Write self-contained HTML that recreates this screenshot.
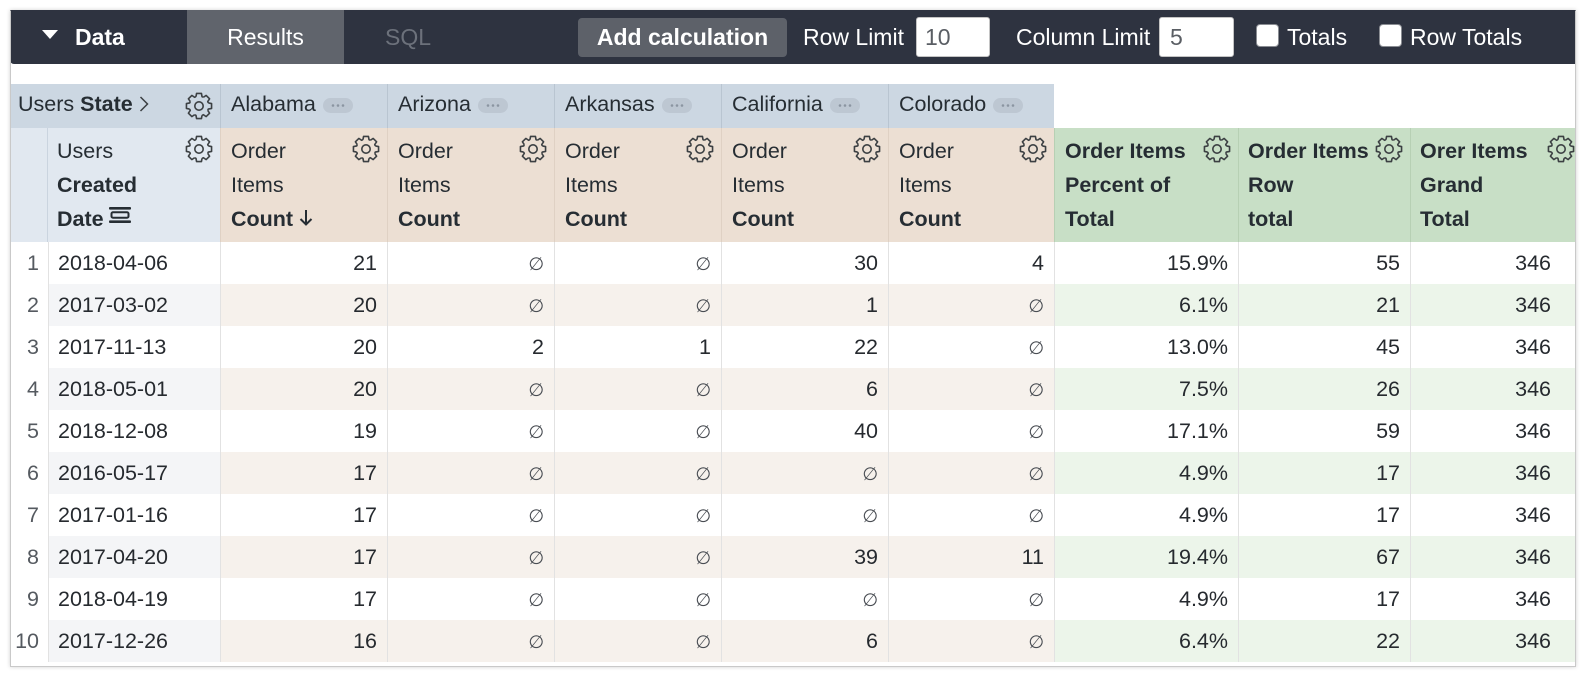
<!DOCTYPE html>
<html>
<head>
<meta charset="utf-8">
<style>
  html,body{margin:0;padding:0;background:#fff;}
  body{width:1586px;height:678px;position:relative;overflow:hidden;font-family:"Liberation Sans",Arial,sans-serif;color:#262a2f;}
  .frame{position:absolute;left:10px;top:10px;width:1566px;height:657px;box-sizing:border-box;border:1px solid #c9c9c9;border-top-color:transparent;box-shadow:0 0 4px rgba(0,0,0,0.18);}
  .clip{position:absolute;left:10px;top:10px;width:1566px;height:657px;overflow:hidden;}
  .inner{position:absolute;left:-10px;top:-10px;width:1600px;height:700px;}
  .tb{position:absolute;left:10px;top:10px;width:1566px;height:54px;background:#2e3340;border-bottom-left-radius:4px;}
  .t{position:absolute;top:10px;height:54px;line-height:54px;font-size:23px;color:#fff;white-space:nowrap;}
  .tri{position:absolute;left:42px;top:30px;width:0;height:0;border-left:8px solid transparent;border-right:8px solid transparent;border-top:9px solid #fff;}
  .tab{position:absolute;left:187px;top:10px;width:157px;height:54px;background:#60646c;color:#fff;font-size:23px;line-height:54px;text-align:center;}
  .btn{position:absolute;left:578px;top:18px;width:209px;height:39px;background:#5d6169;border-radius:4px;color:#fff;font-weight:bold;font-size:23px;line-height:39px;text-align:center;}
  .inp{position:absolute;top:17px;height:40px;box-sizing:border-box;background:#fff;border:1px solid #c4c4c4;border-radius:3px;font-size:23px;line-height:38px;color:#5a5e64;padding-left:8px;}
  .cb{position:absolute;top:24px;width:23px;height:23px;box-sizing:border-box;background:#fff;border:1.5px solid #8a8d93;border-radius:4px;}

  .row{position:absolute;left:11px;display:flex;}
  .c{box-sizing:border-box;height:100%;flex:none;position:relative;white-space:nowrap;overflow:hidden;font-size:21.5px;}
  .w0{width:37px}.w1{width:172px}.w2{width:167px}.w6{width:166px}.w7{width:184px}.w8{width:172px}.w9{width:172px}

  .h1{top:84px;height:44px;}
  .h1 .c{line-height:40px;background:#ccd7e2;color:#262d33;}
  .h1 .s{border-left:1px solid #b9c5d1;padding-left:10px;}
  .pill{vertical-align:-1.5px;margin-left:7px;}

  .h2{top:128px;height:114px;}
  .h2 .c{line-height:34px;padding-top:6px;padding-left:10px;color:#262d33;}
  .h2 .b{background:#e1e8f0;}
  .h2 .o{background:#ecdfd3;border-left:1px solid #dfd1c4;}
  .h2 .g{background:#c8dfc6;border-left:1px solid #b7d0b4;font-weight:bold;}
  .gear{position:absolute;right:7px;top:7px;}

  .d{height:42px;}
  .d .c{line-height:42px;border-left:1px solid #e2e2e2;text-align:right;padding-right:10px;}
  .d .c.n{border-left:none;padding-right:9px;color:#555a60;background:#fff;}
  .d .c.dt{text-align:left;padding-left:9px;padding-right:0;}
  .d .c.gt{padding-right:31px;}
  .d.e .dt{background:#f4f5f7;}
  .d.e .o{background:#f6f1ec;}
  .d.e .g{background:#ecf5ea;}
  .nul{font-family:"DejaVu Sans",sans-serif;font-size:18px;color:#4a4e54;}
</style>
</head>
<body>
<div class="clip"><div class="inner">

  <!-- toolbar -->
  <div class="tb"></div>
  <div class="tri"></div>
  <div class="t" style="left:75px;font-weight:bold;">Data</div>
  <div class="tab">Results</div>
  <div class="t" style="left:385px;color:#6c717b;">SQL</div>
  <div class="btn">Add calculation</div>
  <div class="t" style="left:803px;">Row Limit</div>
  <div class="inp" style="left:916px;width:74px;">10</div>
  <div class="t" style="left:1016px;">Column Limit</div>
  <div class="inp" style="left:1159px;width:75px;padding-left:10px;">5</div>
  <div class="cb" style="left:1256px;"></div>
  <div class="t" style="left:1287px;">Totals</div>
  <div class="cb" style="left:1379px;"></div>
  <div class="t" style="left:1410px;">Row Totals</div>

  <!-- header row 1 -->
  <div class="row h1">
    <div class="c" style="width:209px;padding-left:7px;">Users <b>State</b><svg width="10" height="16" viewBox="0 0 10 16" style="margin-left:6px;vertical-align:-1px;"><polyline points="1.5,1 8.5,8 1.5,15" fill="none" stroke="#3c4043" stroke-width="1.5"/></svg>
      <svg class="gear" style="top:8px;" width="28" height="28" viewBox="0 0 28 28"><g fill="none" stroke="#3c4043" stroke-width="1.6" stroke-linejoin="round"><polyline points="10.97,4.68 11.56,1.44 16.44,1.44 17.03,4.68 18.45,5.27"/><polyline transform="rotate(45 14 14)" points="10.97,4.68 11.56,1.44 16.44,1.44 17.03,4.68 18.45,5.27"/><polyline transform="rotate(90 14 14)" points="10.97,4.68 11.56,1.44 16.44,1.44 17.03,4.68 18.45,5.27"/><polyline transform="rotate(135 14 14)" points="10.97,4.68 11.56,1.44 16.44,1.44 17.03,4.68 18.45,5.27"/><polyline transform="rotate(180 14 14)" points="10.97,4.68 11.56,1.44 16.44,1.44 17.03,4.68 18.45,5.27"/><polyline transform="rotate(225 14 14)" points="10.97,4.68 11.56,1.44 16.44,1.44 17.03,4.68 18.45,5.27"/><polyline transform="rotate(270 14 14)" points="10.97,4.68 11.56,1.44 16.44,1.44 17.03,4.68 18.45,5.27"/><polyline transform="rotate(315 14 14)" points="10.97,4.68 11.56,1.44 16.44,1.44 17.03,4.68 18.45,5.27"/><circle cx="14" cy="14" r="4.2"/></g></svg>
    </div>
    <div class="c s w2">Alabama<svg class="pill" width="30" height="15"><rect width="30" height="15" rx="7.5" fill="#bdc7d2"/><circle cx="10" cy="7.5" r="1.3" fill="#8b95a1"/><circle cx="15" cy="7.5" r="1.3" fill="#8b95a1"/><circle cx="20" cy="7.5" r="1.3" fill="#8b95a1"/></svg></div>
    <div class="c s w2">Arizona<svg class="pill" width="30" height="15"><rect width="30" height="15" rx="7.5" fill="#bdc7d2"/><circle cx="10" cy="7.5" r="1.3" fill="#8b95a1"/><circle cx="15" cy="7.5" r="1.3" fill="#8b95a1"/><circle cx="20" cy="7.5" r="1.3" fill="#8b95a1"/></svg></div>
    <div class="c s w2">Arkansas<svg class="pill" width="30" height="15"><rect width="30" height="15" rx="7.5" fill="#bdc7d2"/><circle cx="10" cy="7.5" r="1.3" fill="#8b95a1"/><circle cx="15" cy="7.5" r="1.3" fill="#8b95a1"/><circle cx="20" cy="7.5" r="1.3" fill="#8b95a1"/></svg></div>
    <div class="c s w2">California<svg class="pill" width="30" height="15"><rect width="30" height="15" rx="7.5" fill="#bdc7d2"/><circle cx="10" cy="7.5" r="1.3" fill="#8b95a1"/><circle cx="15" cy="7.5" r="1.3" fill="#8b95a1"/><circle cx="20" cy="7.5" r="1.3" fill="#8b95a1"/></svg></div>
    <div class="c s w6">Colorado<svg class="pill" width="30" height="15"><rect width="30" height="15" rx="7.5" fill="#bdc7d2"/><circle cx="10" cy="7.5" r="1.3" fill="#8b95a1"/><circle cx="15" cy="7.5" r="1.3" fill="#8b95a1"/><circle cx="20" cy="7.5" r="1.3" fill="#8b95a1"/></svg></div>
  </div>

  <!-- header row 2 -->
  <div class="row h2">
    <div class="c w0 b" style="border-right:1px solid #cad4df;"></div>
    <div class="c b" style="width:172px;padding-left:9px;">Users<br><b>Created</b><br><b>Date</b><svg width="22" height="16" viewBox="0 0 22 16" style="margin-left:5px;vertical-align:3px;"><rect x="0" y="0" width="22" height="2.6" rx="1" fill="#262d33"/><rect x="2.5" y="5.3" width="17" height="5.4" rx="1.5" fill="none" stroke="#262d33" stroke-width="2"/><rect x="0" y="13.4" width="22" height="2.6" rx="1" fill="#262d33"/></svg>
      <svg class="gear" width="28" height="28" viewBox="0 0 28 28"><g fill="none" stroke="#3c4043" stroke-width="1.6" stroke-linejoin="round"><polyline points="10.97,4.68 11.56,1.44 16.44,1.44 17.03,4.68 18.45,5.27"/><polyline transform="rotate(45 14 14)" points="10.97,4.68 11.56,1.44 16.44,1.44 17.03,4.68 18.45,5.27"/><polyline transform="rotate(90 14 14)" points="10.97,4.68 11.56,1.44 16.44,1.44 17.03,4.68 18.45,5.27"/><polyline transform="rotate(135 14 14)" points="10.97,4.68 11.56,1.44 16.44,1.44 17.03,4.68 18.45,5.27"/><polyline transform="rotate(180 14 14)" points="10.97,4.68 11.56,1.44 16.44,1.44 17.03,4.68 18.45,5.27"/><polyline transform="rotate(225 14 14)" points="10.97,4.68 11.56,1.44 16.44,1.44 17.03,4.68 18.45,5.27"/><polyline transform="rotate(270 14 14)" points="10.97,4.68 11.56,1.44 16.44,1.44 17.03,4.68 18.45,5.27"/><polyline transform="rotate(315 14 14)" points="10.97,4.68 11.56,1.44 16.44,1.44 17.03,4.68 18.45,5.27"/><circle cx="14" cy="14" r="4.2"/></g></svg>
    </div>
    <div class="c o w2">Order<br>Items<br><b>Count</b> <svg width="14" height="17" viewBox="0 0 14 17" style="vertical-align:0;"><line x1="7" y1="1" x2="7" y2="15.5" stroke="#262d33" stroke-width="2"/><polyline points="1.5,10 7,15.5 12.5,10" fill="none" stroke="#262d33" stroke-width="2"/></svg>
      <svg class="gear" width="28" height="28" viewBox="0 0 28 28"><g fill="none" stroke="#3c4043" stroke-width="1.6" stroke-linejoin="round"><polyline points="10.97,4.68 11.56,1.44 16.44,1.44 17.03,4.68 18.45,5.27"/><polyline transform="rotate(45 14 14)" points="10.97,4.68 11.56,1.44 16.44,1.44 17.03,4.68 18.45,5.27"/><polyline transform="rotate(90 14 14)" points="10.97,4.68 11.56,1.44 16.44,1.44 17.03,4.68 18.45,5.27"/><polyline transform="rotate(135 14 14)" points="10.97,4.68 11.56,1.44 16.44,1.44 17.03,4.68 18.45,5.27"/><polyline transform="rotate(180 14 14)" points="10.97,4.68 11.56,1.44 16.44,1.44 17.03,4.68 18.45,5.27"/><polyline transform="rotate(225 14 14)" points="10.97,4.68 11.56,1.44 16.44,1.44 17.03,4.68 18.45,5.27"/><polyline transform="rotate(270 14 14)" points="10.97,4.68 11.56,1.44 16.44,1.44 17.03,4.68 18.45,5.27"/><polyline transform="rotate(315 14 14)" points="10.97,4.68 11.56,1.44 16.44,1.44 17.03,4.68 18.45,5.27"/><circle cx="14" cy="14" r="4.2"/></g></svg>
    </div>
    <div class="c o w2">Order<br>Items<br><b>Count</b>
      <svg class="gear" width="28" height="28" viewBox="0 0 28 28"><g fill="none" stroke="#3c4043" stroke-width="1.6" stroke-linejoin="round"><polyline points="10.97,4.68 11.56,1.44 16.44,1.44 17.03,4.68 18.45,5.27"/><polyline transform="rotate(45 14 14)" points="10.97,4.68 11.56,1.44 16.44,1.44 17.03,4.68 18.45,5.27"/><polyline transform="rotate(90 14 14)" points="10.97,4.68 11.56,1.44 16.44,1.44 17.03,4.68 18.45,5.27"/><polyline transform="rotate(135 14 14)" points="10.97,4.68 11.56,1.44 16.44,1.44 17.03,4.68 18.45,5.27"/><polyline transform="rotate(180 14 14)" points="10.97,4.68 11.56,1.44 16.44,1.44 17.03,4.68 18.45,5.27"/><polyline transform="rotate(225 14 14)" points="10.97,4.68 11.56,1.44 16.44,1.44 17.03,4.68 18.45,5.27"/><polyline transform="rotate(270 14 14)" points="10.97,4.68 11.56,1.44 16.44,1.44 17.03,4.68 18.45,5.27"/><polyline transform="rotate(315 14 14)" points="10.97,4.68 11.56,1.44 16.44,1.44 17.03,4.68 18.45,5.27"/><circle cx="14" cy="14" r="4.2"/></g></svg>
    </div>
    <div class="c o w2">Order<br>Items<br><b>Count</b>
      <svg class="gear" width="28" height="28" viewBox="0 0 28 28"><g fill="none" stroke="#3c4043" stroke-width="1.6" stroke-linejoin="round"><polyline points="10.97,4.68 11.56,1.44 16.44,1.44 17.03,4.68 18.45,5.27"/><polyline transform="rotate(45 14 14)" points="10.97,4.68 11.56,1.44 16.44,1.44 17.03,4.68 18.45,5.27"/><polyline transform="rotate(90 14 14)" points="10.97,4.68 11.56,1.44 16.44,1.44 17.03,4.68 18.45,5.27"/><polyline transform="rotate(135 14 14)" points="10.97,4.68 11.56,1.44 16.44,1.44 17.03,4.68 18.45,5.27"/><polyline transform="rotate(180 14 14)" points="10.97,4.68 11.56,1.44 16.44,1.44 17.03,4.68 18.45,5.27"/><polyline transform="rotate(225 14 14)" points="10.97,4.68 11.56,1.44 16.44,1.44 17.03,4.68 18.45,5.27"/><polyline transform="rotate(270 14 14)" points="10.97,4.68 11.56,1.44 16.44,1.44 17.03,4.68 18.45,5.27"/><polyline transform="rotate(315 14 14)" points="10.97,4.68 11.56,1.44 16.44,1.44 17.03,4.68 18.45,5.27"/><circle cx="14" cy="14" r="4.2"/></g></svg>
    </div>
    <div class="c o w2">Order<br>Items<br><b>Count</b>
      <svg class="gear" width="28" height="28" viewBox="0 0 28 28"><g fill="none" stroke="#3c4043" stroke-width="1.6" stroke-linejoin="round"><polyline points="10.97,4.68 11.56,1.44 16.44,1.44 17.03,4.68 18.45,5.27"/><polyline transform="rotate(45 14 14)" points="10.97,4.68 11.56,1.44 16.44,1.44 17.03,4.68 18.45,5.27"/><polyline transform="rotate(90 14 14)" points="10.97,4.68 11.56,1.44 16.44,1.44 17.03,4.68 18.45,5.27"/><polyline transform="rotate(135 14 14)" points="10.97,4.68 11.56,1.44 16.44,1.44 17.03,4.68 18.45,5.27"/><polyline transform="rotate(180 14 14)" points="10.97,4.68 11.56,1.44 16.44,1.44 17.03,4.68 18.45,5.27"/><polyline transform="rotate(225 14 14)" points="10.97,4.68 11.56,1.44 16.44,1.44 17.03,4.68 18.45,5.27"/><polyline transform="rotate(270 14 14)" points="10.97,4.68 11.56,1.44 16.44,1.44 17.03,4.68 18.45,5.27"/><polyline transform="rotate(315 14 14)" points="10.97,4.68 11.56,1.44 16.44,1.44 17.03,4.68 18.45,5.27"/><circle cx="14" cy="14" r="4.2"/></g></svg>
    </div>
    <div class="c o w6">Order<br>Items<br><b>Count</b>
      <svg class="gear" width="28" height="28" viewBox="0 0 28 28"><g fill="none" stroke="#3c4043" stroke-width="1.6" stroke-linejoin="round"><polyline points="10.97,4.68 11.56,1.44 16.44,1.44 17.03,4.68 18.45,5.27"/><polyline transform="rotate(45 14 14)" points="10.97,4.68 11.56,1.44 16.44,1.44 17.03,4.68 18.45,5.27"/><polyline transform="rotate(90 14 14)" points="10.97,4.68 11.56,1.44 16.44,1.44 17.03,4.68 18.45,5.27"/><polyline transform="rotate(135 14 14)" points="10.97,4.68 11.56,1.44 16.44,1.44 17.03,4.68 18.45,5.27"/><polyline transform="rotate(180 14 14)" points="10.97,4.68 11.56,1.44 16.44,1.44 17.03,4.68 18.45,5.27"/><polyline transform="rotate(225 14 14)" points="10.97,4.68 11.56,1.44 16.44,1.44 17.03,4.68 18.45,5.27"/><polyline transform="rotate(270 14 14)" points="10.97,4.68 11.56,1.44 16.44,1.44 17.03,4.68 18.45,5.27"/><polyline transform="rotate(315 14 14)" points="10.97,4.68 11.56,1.44 16.44,1.44 17.03,4.68 18.45,5.27"/><circle cx="14" cy="14" r="4.2"/></g></svg>
    </div>
    <div class="c g w7">Order Items<br>Percent of<br>Total
      <svg class="gear" width="28" height="28" viewBox="0 0 28 28"><g fill="none" stroke="#3c4043" stroke-width="1.6" stroke-linejoin="round"><polyline points="10.97,4.68 11.56,1.44 16.44,1.44 17.03,4.68 18.45,5.27"/><polyline transform="rotate(45 14 14)" points="10.97,4.68 11.56,1.44 16.44,1.44 17.03,4.68 18.45,5.27"/><polyline transform="rotate(90 14 14)" points="10.97,4.68 11.56,1.44 16.44,1.44 17.03,4.68 18.45,5.27"/><polyline transform="rotate(135 14 14)" points="10.97,4.68 11.56,1.44 16.44,1.44 17.03,4.68 18.45,5.27"/><polyline transform="rotate(180 14 14)" points="10.97,4.68 11.56,1.44 16.44,1.44 17.03,4.68 18.45,5.27"/><polyline transform="rotate(225 14 14)" points="10.97,4.68 11.56,1.44 16.44,1.44 17.03,4.68 18.45,5.27"/><polyline transform="rotate(270 14 14)" points="10.97,4.68 11.56,1.44 16.44,1.44 17.03,4.68 18.45,5.27"/><polyline transform="rotate(315 14 14)" points="10.97,4.68 11.56,1.44 16.44,1.44 17.03,4.68 18.45,5.27"/><circle cx="14" cy="14" r="4.2"/></g></svg>
    </div>
    <div class="c g w8" style="padding-left:9px;">Order Items<br>Row<br>total
      <svg class="gear" width="28" height="28" viewBox="0 0 28 28"><g fill="none" stroke="#3c4043" stroke-width="1.6" stroke-linejoin="round"><polyline points="10.97,4.68 11.56,1.44 16.44,1.44 17.03,4.68 18.45,5.27"/><polyline transform="rotate(45 14 14)" points="10.97,4.68 11.56,1.44 16.44,1.44 17.03,4.68 18.45,5.27"/><polyline transform="rotate(90 14 14)" points="10.97,4.68 11.56,1.44 16.44,1.44 17.03,4.68 18.45,5.27"/><polyline transform="rotate(135 14 14)" points="10.97,4.68 11.56,1.44 16.44,1.44 17.03,4.68 18.45,5.27"/><polyline transform="rotate(180 14 14)" points="10.97,4.68 11.56,1.44 16.44,1.44 17.03,4.68 18.45,5.27"/><polyline transform="rotate(225 14 14)" points="10.97,4.68 11.56,1.44 16.44,1.44 17.03,4.68 18.45,5.27"/><polyline transform="rotate(270 14 14)" points="10.97,4.68 11.56,1.44 16.44,1.44 17.03,4.68 18.45,5.27"/><polyline transform="rotate(315 14 14)" points="10.97,4.68 11.56,1.44 16.44,1.44 17.03,4.68 18.45,5.27"/><circle cx="14" cy="14" r="4.2"/></g></svg>
    </div>
    <div class="c g w9" style="padding-left:9px;">Orer Items<br>Grand<br>Total
      <svg class="gear" width="28" height="28" viewBox="0 0 28 28"><g fill="none" stroke="#3c4043" stroke-width="1.6" stroke-linejoin="round"><polyline points="10.97,4.68 11.56,1.44 16.44,1.44 17.03,4.68 18.45,5.27"/><polyline transform="rotate(45 14 14)" points="10.97,4.68 11.56,1.44 16.44,1.44 17.03,4.68 18.45,5.27"/><polyline transform="rotate(90 14 14)" points="10.97,4.68 11.56,1.44 16.44,1.44 17.03,4.68 18.45,5.27"/><polyline transform="rotate(135 14 14)" points="10.97,4.68 11.56,1.44 16.44,1.44 17.03,4.68 18.45,5.27"/><polyline transform="rotate(180 14 14)" points="10.97,4.68 11.56,1.44 16.44,1.44 17.03,4.68 18.45,5.27"/><polyline transform="rotate(225 14 14)" points="10.97,4.68 11.56,1.44 16.44,1.44 17.03,4.68 18.45,5.27"/><polyline transform="rotate(270 14 14)" points="10.97,4.68 11.56,1.44 16.44,1.44 17.03,4.68 18.45,5.27"/><polyline transform="rotate(315 14 14)" points="10.97,4.68 11.56,1.44 16.44,1.44 17.03,4.68 18.45,5.27"/><circle cx="14" cy="14" r="4.2"/></g></svg>
    </div>
  </div>

  <!-- data rows -->
  <div class="row d" style="top:242px;"><div class="c n w0">1</div><div class="c dt w1">2018-04-06</div><div class="c o w2">21</div><div class="c o w2"><span class="nul">∅</span></div><div class="c o w2"><span class="nul">∅</span></div><div class="c o w2">30</div><div class="c o w6">4</div><div class="c g w7">15.9%</div><div class="c g w8">55</div><div class="c g gt w9">346</div></div>
  <div class="row d e" style="top:284px;"><div class="c n w0">2</div><div class="c dt w1">2017-03-02</div><div class="c o w2">20</div><div class="c o w2"><span class="nul">∅</span></div><div class="c o w2"><span class="nul">∅</span></div><div class="c o w2">1</div><div class="c o w6"><span class="nul">∅</span></div><div class="c g w7">6.1%</div><div class="c g w8">21</div><div class="c g gt w9">346</div></div>
  <div class="row d" style="top:326px;"><div class="c n w0">3</div><div class="c dt w1">2017-11-13</div><div class="c o w2">20</div><div class="c o w2">2</div><div class="c o w2">1</div><div class="c o w2">22</div><div class="c o w6"><span class="nul">∅</span></div><div class="c g w7">13.0%</div><div class="c g w8">45</div><div class="c g gt w9">346</div></div>
  <div class="row d e" style="top:368px;"><div class="c n w0">4</div><div class="c dt w1">2018-05-01</div><div class="c o w2">20</div><div class="c o w2"><span class="nul">∅</span></div><div class="c o w2"><span class="nul">∅</span></div><div class="c o w2">6</div><div class="c o w6"><span class="nul">∅</span></div><div class="c g w7">7.5%</div><div class="c g w8">26</div><div class="c g gt w9">346</div></div>
  <div class="row d" style="top:410px;"><div class="c n w0">5</div><div class="c dt w1">2018-12-08</div><div class="c o w2">19</div><div class="c o w2"><span class="nul">∅</span></div><div class="c o w2"><span class="nul">∅</span></div><div class="c o w2">40</div><div class="c o w6"><span class="nul">∅</span></div><div class="c g w7">17.1%</div><div class="c g w8">59</div><div class="c g gt w9">346</div></div>
  <div class="row d e" style="top:452px;"><div class="c n w0">6</div><div class="c dt w1">2016-05-17</div><div class="c o w2">17</div><div class="c o w2"><span class="nul">∅</span></div><div class="c o w2"><span class="nul">∅</span></div><div class="c o w2"><span class="nul">∅</span></div><div class="c o w6"><span class="nul">∅</span></div><div class="c g w7">4.9%</div><div class="c g w8">17</div><div class="c g gt w9">346</div></div>
  <div class="row d" style="top:494px;"><div class="c n w0">7</div><div class="c dt w1">2017-01-16</div><div class="c o w2">17</div><div class="c o w2"><span class="nul">∅</span></div><div class="c o w2"><span class="nul">∅</span></div><div class="c o w2"><span class="nul">∅</span></div><div class="c o w6"><span class="nul">∅</span></div><div class="c g w7">4.9%</div><div class="c g w8">17</div><div class="c g gt w9">346</div></div>
  <div class="row d e" style="top:536px;"><div class="c n w0">8</div><div class="c dt w1">2017-04-20</div><div class="c o w2">17</div><div class="c o w2"><span class="nul">∅</span></div><div class="c o w2"><span class="nul">∅</span></div><div class="c o w2">39</div><div class="c o w6">11</div><div class="c g w7">19.4%</div><div class="c g w8">67</div><div class="c g gt w9">346</div></div>
  <div class="row d" style="top:578px;"><div class="c n w0">9</div><div class="c dt w1">2018-04-19</div><div class="c o w2">17</div><div class="c o w2"><span class="nul">∅</span></div><div class="c o w2"><span class="nul">∅</span></div><div class="c o w2"><span class="nul">∅</span></div><div class="c o w6"><span class="nul">∅</span></div><div class="c g w7">4.9%</div><div class="c g w8">17</div><div class="c g gt w9">346</div></div>
  <div class="row d e" style="top:620px;"><div class="c n w0">10</div><div class="c dt w1">2017-12-26</div><div class="c o w2">16</div><div class="c o w2"><span class="nul">∅</span></div><div class="c o w2"><span class="nul">∅</span></div><div class="c o w2">6</div><div class="c o w6"><span class="nul">∅</span></div><div class="c g w7">6.4%</div><div class="c g w8">22</div><div class="c g gt w9">346</div></div>

</div></div>
<div class="frame"></div>
</body>
</html>
